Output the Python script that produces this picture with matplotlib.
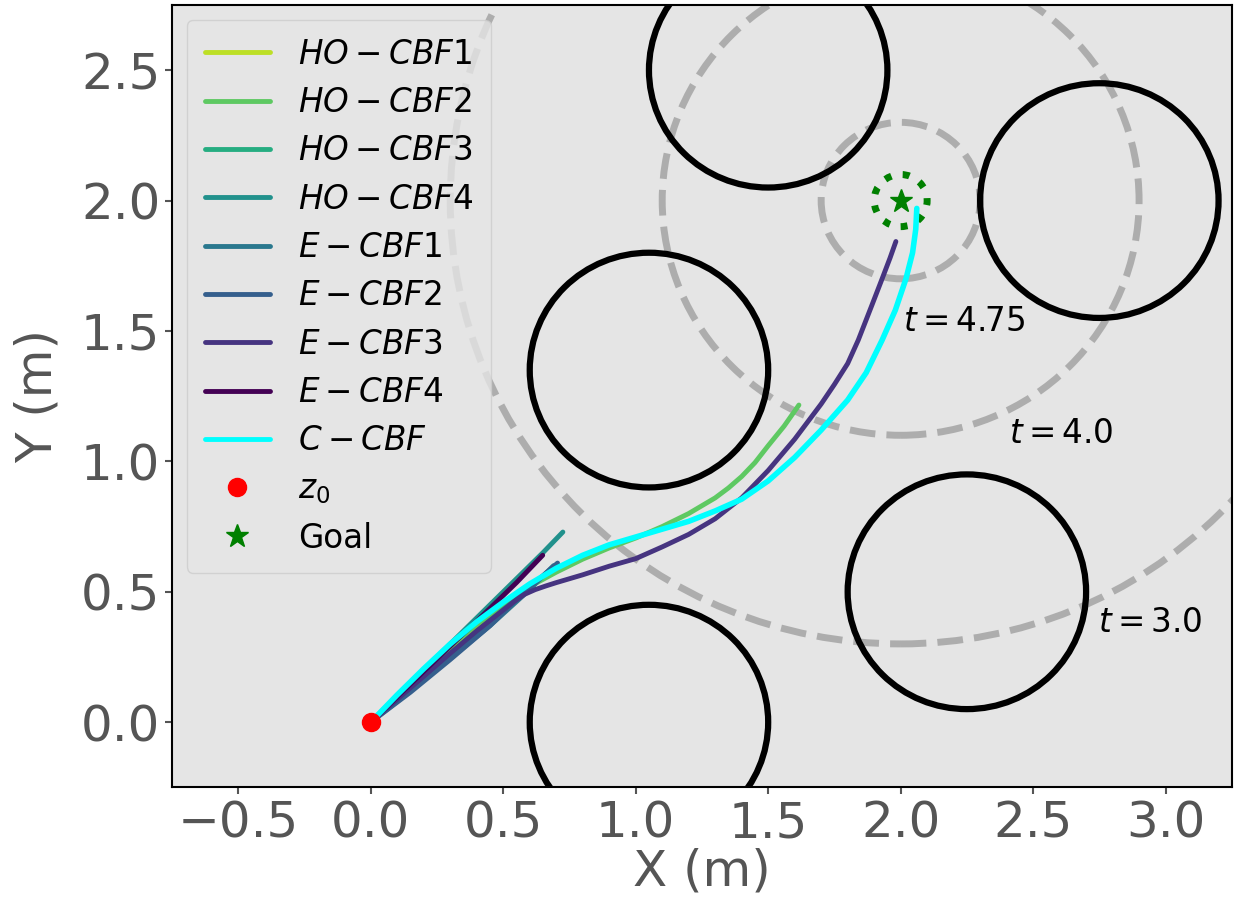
import numpy as np
import matplotlib
matplotlib.use("Agg")
import matplotlib.pyplot as plt
from matplotlib.patches import Circle

# ---- scene ----
obstacle_centers = [(1.5, 2.5), (2.75, 2.0), (1.05, 1.35), (2.25, 0.5), (1.05, 0.0)]
obstacle_radius = 0.45
goal = (2.0, 2.0)
goal_radius = 0.1
start = (0.0, 0.0)

# reachable-set rings around the goal and their time labels
ring_radii = [0.3, 0.9, 1.7]
ring_labels = ["$t = 4.75$", "$t = 4.0$", "$t = 3.0$"]
ring_label_xy = [(2.01, 1.535), (2.41, 1.105), (2.745, 0.384)]

# ---- trajectories ----
labels = ["$HO-CBF1$", "$HO-CBF2$", "$HO-CBF3$", "$HO-CBF4$",
          "$E-CBF1$", "$E-CBF2$", "$E-CBF3$", "$E-CBF4$", "$C-CBF$"]

ho1_x = [0.0, 0.15, 0.3, 0.45, 0.58]
ho1_y = [0.0, 0.14, 0.27, 0.40, 0.50]

ho2_x = [0.0, 0.1, 0.2, 0.3, 0.4, 0.5, 0.6, 0.7, 0.8, 0.9, 1.0, 1.1, 1.2, 1.3,
         1.35, 1.4, 1.45, 1.5, 1.56, 1.616]
ho2_y = [0.0, 0.1, 0.198, 0.29, 0.375, 0.45, 0.52, 0.575, 0.625, 0.668, 0.706, 0.75,
         0.8, 0.86, 0.898, 0.942, 0.995, 1.06, 1.135, 1.216]

ho3_x = [0.0, 0.15, 0.3, 0.45, 0.62]
ho3_y = [0.0, 0.135, 0.265, 0.39, 0.53]

ho4_x = [0.0, 0.2, 0.4, 0.55, 0.65, 0.725]
ho4_y = [0.0, 0.2, 0.4, 0.55, 0.65, 0.729]

e1_x = [0.0, 0.15, 0.3, 0.45, 0.58, 0.69]
e1_y = [0.0, 0.12, 0.245, 0.37, 0.49, 0.60]

e2_x = [0.0, 0.15, 0.3, 0.45, 0.58, 0.705]
e2_y = [0.0, 0.115, 0.24, 0.37, 0.5, 0.61]

e3_x = [0.0, 0.1, 0.2, 0.3, 0.4, 0.5, 0.54, 0.58, 0.62, 0.66, 0.7, 0.8, 0.9, 1.0,
        1.1, 1.2, 1.3, 1.4, 1.5, 1.6, 1.7, 1.75, 1.8, 1.84, 1.89, 1.93, 1.96, 1.982]
e3_y = [0.0, 0.088, 0.176, 0.264, 0.35, 0.43, 0.462, 0.49, 0.508, 0.522, 0.535, 0.565,
        0.598, 0.627, 0.672, 0.72, 0.78, 0.86, 0.965, 1.085, 1.22, 1.295, 1.375, 1.465,
        1.595, 1.70, 1.78, 1.843]

e4_x = [0.0, 0.2, 0.423, 0.55, 0.649]
e4_y = [0.0, 0.195, 0.41, 0.535, 0.64]

c_x = [0.0, 0.1, 0.2, 0.3, 0.4, 0.5, 0.6, 0.7, 0.8, 0.9, 1.0, 1.1, 1.2, 1.3, 1.4,
       1.5, 1.6, 1.7, 1.8, 1.87, 1.93, 1.98, 2.02, 2.045, 2.057, 2.061]
c_y = [0.0, 0.105, 0.205, 0.3, 0.385, 0.46, 0.53, 0.59, 0.64, 0.68, 0.71, 0.74,
       0.77, 0.81, 0.855, 0.925, 1.015, 1.12, 1.235, 1.34, 1.465, 1.58, 1.70, 1.80,
       1.89, 1.97]

xs = [ho1_x, ho2_x, ho3_x, ho4_x, e1_x, e2_x, e3_x, e4_x, c_x]
ys = [ho1_y, ho2_y, ho3_y, ho4_y, e1_y, e2_y, e3_y, e4_y, c_y]

colors = list(plt.cm.viridis([0.9, 0.75, 0.62, 0.5, 0.4, 0.3, 0.15, 0.0])) + ["cyan"]
widths = [3.5] * 8 + [4.0]

fig = plt.figure(figsize=(12.38, 9.05), dpi=100)
ax = fig.add_axes([0.139, 0.130, 0.856, 0.8645])
ax.set_facecolor("#e5e5e5")

for (cx, cy) in obstacle_centers:
    ax.add_patch(Circle((cx, cy), obstacle_radius, fill=False, edgecolor="black",
                        linewidth=4.5, zorder=2))

for r in ring_radii:
    ax.add_patch(Circle(goal, r, fill=False, edgecolor="gray", alpha=0.55,
                        linewidth=5, linestyle="--", zorder=1))
for txt, (tx, ty) in zip(ring_labels, ring_label_xy):
    ax.text(tx, ty, txt, fontsize=23.5, va="center", ha="left", color="black")

ax.add_patch(Circle(goal, goal_radius, fill=False, edgecolor="green",
                    linewidth=5, linestyle=":", zorder=3))

for x, y, lab, col, lw in zip(xs, ys, labels, colors, widths):
    ax.plot(x, y, color=col, linewidth=lw, label=lab, zorder=4,
            solid_capstyle="round", solid_joinstyle="round")

ax.plot([start[0]], [start[1]], "o", color="red", markersize=13, label="$z_0$", zorder=6)
ax.plot([goal[0]], [goal[1]], "*", color="green", markersize=17, label="Goal", zorder=6)

ax.set_xlim(-0.75, 3.25)
ax.set_ylim(-0.25, 2.75)
ax.set_xticks([-0.5, 0.0, 0.5, 1.0, 1.5, 2.0, 2.5, 3.0])
ax.set_yticks([0.0, 0.5, 1.0, 1.5, 2.0, 2.5])
ax.tick_params(labelsize=36, labelcolor="#555555", color="#555555",
               length=5, width=1.5, direction="out")
ax.set_xlabel("X (m)", fontsize=36, color="#555555", labelpad=0)
ax.set_ylabel("Y (m)", fontsize=36, color="#555555", labelpad=14)
for s in ax.spines.values():
    s.set_color("black")
    s.set_linewidth(1.5)

leg = ax.legend(loc="upper left", fontsize=23.5, handlelength=2.0,
                borderaxespad=0.45, borderpad=0.55, labelspacing=0.47,
                handletextpad=0.85, facecolor="#e5e5e5", edgecolor="#cccccc",
                framealpha=0.8)
for h in leg.get_lines()[:9]:
    h.set_linewidth(3.5)

fig.savefig("out.png", dpi=100)
